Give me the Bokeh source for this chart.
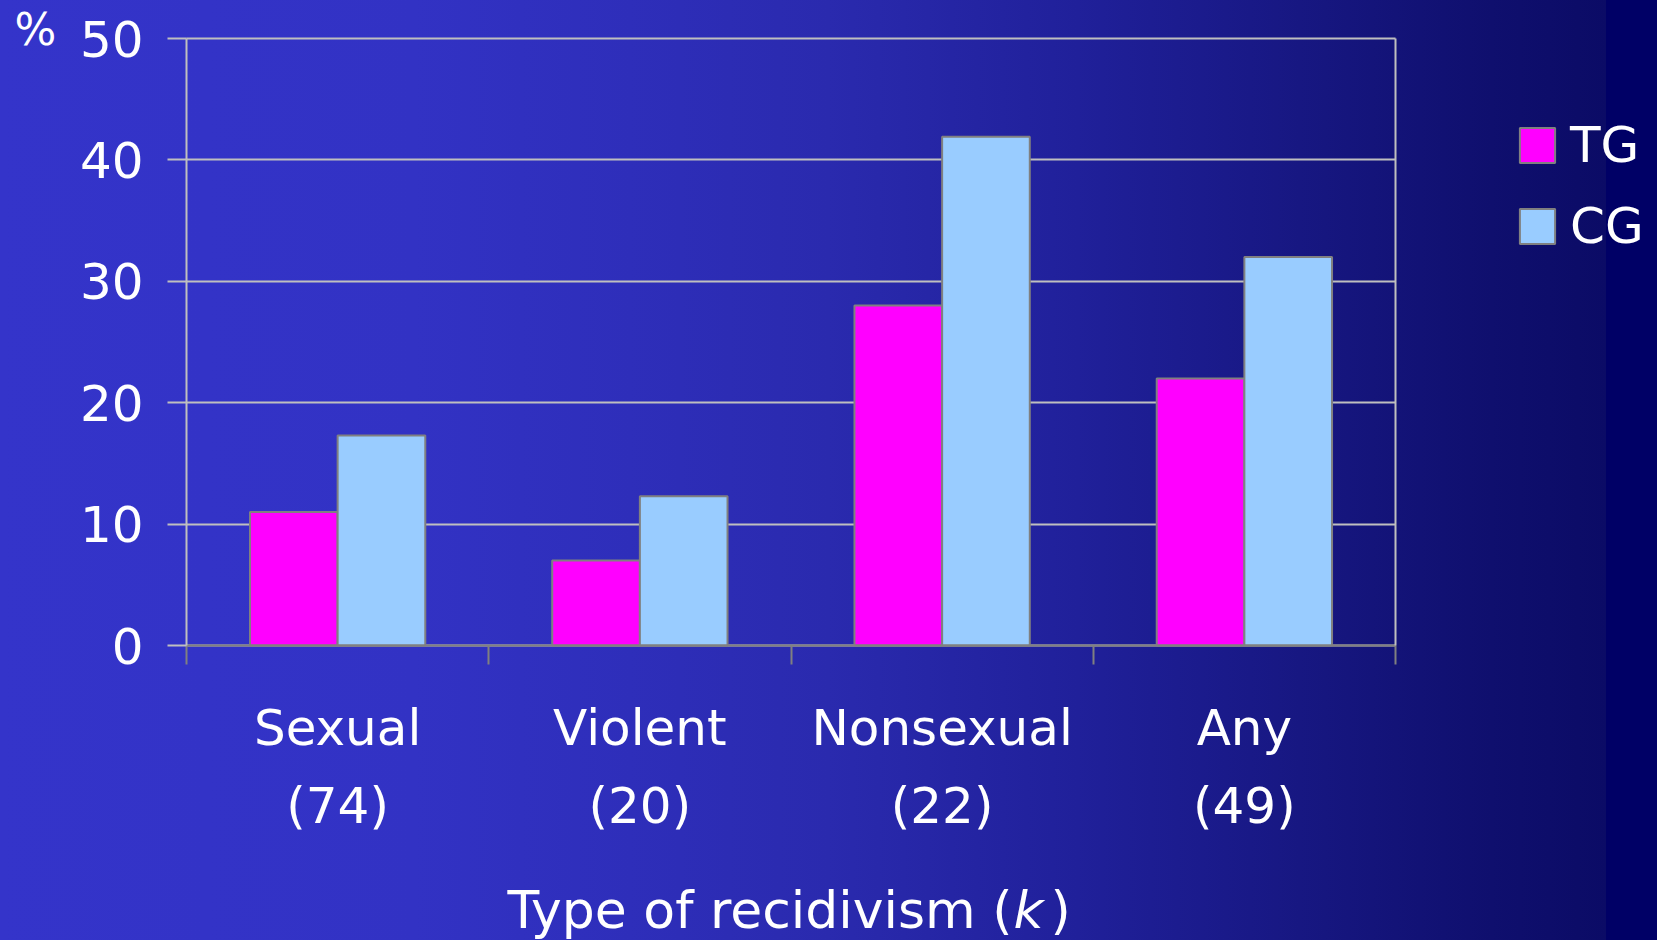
from bokeh.plotting import figure
from bokeh.models import (ColumnDataSource, Range1d, FixedTicker, Legend, LegendItem, LinearAxis)
from bokeh.core.properties import value
from bokeh.transform import dodge
from bokeh.embed import file_html
from bokeh.resources import INLINE

# ---- data ----
categories = ["Sexual", "Violent", "Nonsexual", "Any"]
k_labels = ["(74)", "(20)", "(22)", "(49)"]
tg_values = [11, 7, 28, 22]
cg_values = [17.3, 12.3, 41.9, 32]
series_names = ["TG", "CG"]
y_ticks = [0, 10, 20, 30, 40, 50]
y_unit = "%"
x_title = ["Type of recidivism (", "k", ")"]

FONT = "DejaVu Sans"
WHITE = "#FFFFFF"
TG_COLOR = "#FF00FF"
CG_COLOR = "#99CCFF"
EDGE = "#808080"
GRID = "#BFBFBF"

# ---- layout (pixels) ----
W, H = 1657, 940
PX_L, PX_R, PX_T, PX_B = 186, 1395, 38, 645
n_cat = len(categories)
y_max = y_ticks[-1]
sx = (PX_R - PX_L) / n_cat          # px per x unit
sy = (PX_B - PX_T) / y_max          # px per y unit


def px_x(px):
    return (px - PX_L) / sx


def px_y(py):
    return (PX_B - py) / sy


xc = [i + 0.5 for i in range(n_cat)]
src = ColumnDataSource(dict(x=xc, tg=tg_values, cg=cg_values))

p = figure(width=W, height=H, output_backend="svg", toolbar_location=None,
           x_range=Range1d(px_x(0), px_x(W)), y_range=Range1d(px_y(H), px_y(0)),
           min_border=0, title=None)
p.styles = {"background": "linear-gradient(to right, #3434CA 0%, #3232C4 25%, #2E2EBA 38%, "
                          "#2A2AAE 50%, #20209A 65%, #16167F 80%, #0F0F6E 90%, #0B0B66 96.9%, "
                          "#000066 96.9%, #000066 100%)"}
p.border_fill_alpha = 0
p.background_fill_alpha = 0
p.outline_line_color = None

# grid lines (limited to the plot area)
yg = p.ygrid[0]
p.xgrid.grid_line_color = None
if "cross_bounds" in yg.properties():
    yg.ticker = FixedTicker(ticks=y_ticks)
    yg.grid_line_color = GRID
    yg.grid_line_width = 2
    yg.cross_bounds = (0, n_cat)
else:
    yg.grid_line_color = None
    p.segment(x0=[0] * len(y_ticks), x1=[n_cat] * len(y_ticks), y0=y_ticks, y1=y_ticks,
              line_color=GRID, line_width=2)

w = 0.29
r_tg = p.vbar(x=dodge("x", -w / 2), top="tg", width=w, source=src,
              fill_color=TG_COLOR, line_color=EDGE, line_width=2)
r_cg = p.vbar(x=dodge("x", w / 2), top="cg", width=w, source=src,
              fill_color=CG_COLOR, line_color=EDGE, line_width=2)

# y axis
ya = p.yaxis[0]
ya.fixed_location = 0
ya.bounds = (0, y_max)
ya.ticker = FixedTicker(ticks=y_ticks)
ya.axis_line_color = GRID
ya.axis_line_width = 2
ya.major_tick_line_color = GRID
ya.major_tick_line_width = 2
ya.major_tick_out = 19
ya.major_tick_in = 0
ya.minor_tick_line_color = None
ya.major_label_text_font = FONT
ya.major_label_text_font_size = "50px"
ya.major_label_text_color = WHITE
ya.major_label_standoff = 24

# unit sign above the y axis labels
p.text(x=[px_x(14)], y=[px_y(48 - 19)], text=[y_unit], text_align="left",
       text_baseline="alphabetic", text_font=value(FONT), text_font_size=value("44px"),
       text_color=WHITE)

# right border of the plot area
ra = LinearAxis(fixed_location=n_cat, bounds=(0, y_max), ticker=FixedTicker(ticks=y_ticks),
                axis_line_color=GRID, axis_line_width=2, major_tick_line_color=None,
                minor_tick_line_color=None, major_label_text_color=None,
                major_label_text_font_size="0px")
p.add_layout(ra, "right")

# x axis: labels at category centres, tick marks at category boundaries
xa = p.xaxis[0]
xa.fixed_location = 0
xa.bounds = (0, n_cat)
xa.ticker = FixedTicker(ticks=xc, minor_ticks=list(range(n_cat + 1)))
xa.axis_line_color = EDGE
xa.axis_line_width = 2
xa.major_tick_line_color = None
xa.major_tick_out = 0
xa.major_tick_in = 0
xa.minor_tick_line_color = EDGE
xa.minor_tick_line_width = 2
xa.minor_tick_out = 19
xa.minor_tick_in = 0
xa.major_label_overrides = {x: f"{c}\n{k}" for x, c, k in zip(xc, categories, k_labels)}
xa.major_label_text_font = FONT
xa.major_label_text_font_size = "50px"
xa.major_label_text_color = WHITE
xa.major_label_text_line_height = 1.36
xa.major_label_standoff = 34

# x-axis title with italic k
ty = px_y(928 - 19)
p.text(x=[px_x(1012)], y=[ty], text=[x_title[0]], text_align="right",
       text_baseline="alphabetic", text_font=value(FONT), text_font_size=value("52px"),
       text_color=WHITE)
p.text(x=[px_x(1013)], y=[ty], text=[x_title[1]], text_align="left",
       text_baseline="alphabetic", text_font=value(FONT), text_font_size=value("52px"),
       text_font_style=value("italic"), text_color=WHITE)
p.text(x=[px_x(1050)], y=[ty], text=[x_title[2]], text_align="left",
       text_baseline="alphabetic", text_font=value(FONT), text_font_size=value("52px"),
       text_color=WHITE)

legend = Legend(items=[LegendItem(label=series_names[0], renderers=[r_tg]),
                       LegendItem(label=series_names[1], renderers=[r_cg])],
                location=(1515, H - 255))
legend.glyph_width = 44
legend.glyph_height = 44
legend.label_standoff = 11
legend.spacing = 23
legend.padding = 0
legend.margin = 0
legend.label_text_font = FONT
legend.label_text_font_size = "50px"
legend.label_text_color = WHITE
legend.background_fill_alpha = 0
legend.border_line_alpha = 0
p.add_layout(legend, "center")

open("out.html", "w").write(file_html(p, INLINE))
